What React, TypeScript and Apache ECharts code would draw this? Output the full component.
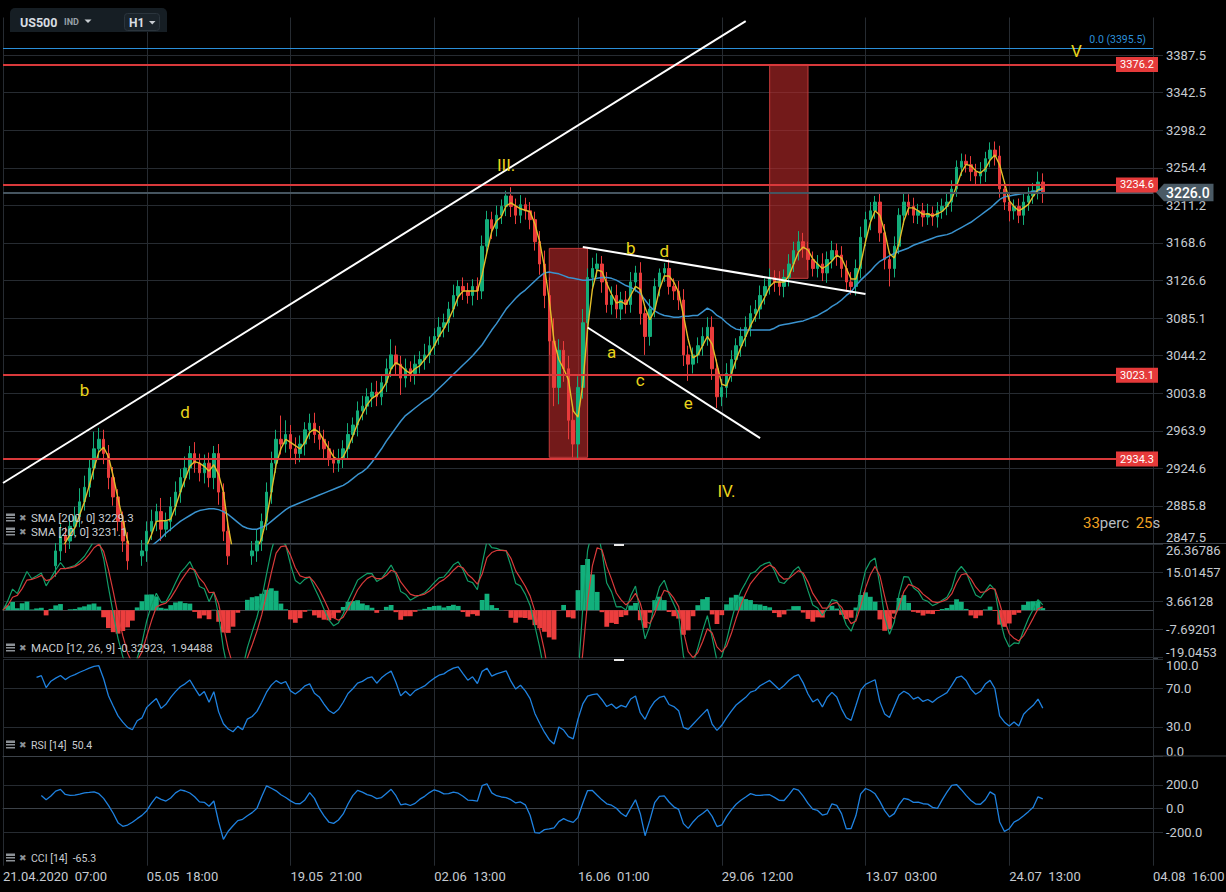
import React, { useEffect, useRef } from "react";
import * as echarts from "echarts";

// ---------- x axis ----------
const xTickDates = ["21.04.2020", "05.05", "19.05", "02.06", "16.06", "29.06", "13.07", "24.07", "04.08"];
const xTickTimes = ["07:00", "18:00", "21:00", "13:00", "01:00", "12:00", "03:00", "13:00", "16:00"];
const BARS_PER_TICK = 30;
const CATEGORY_COUNT = (xTickDates.length - 1) * BARS_PER_TICK + 1;

// ---------- price data (resampled bars) ----------
const firstOpen = 2730;
const closes = [
  2740, 2755, 2770, 2760, 2785, 2800, 2790, 2805, 2815, 2800,
  2825, 2840, 2855, 2850, 2865, 2875, 2890, 2905, 2925, 2945,
  2955, 2940, 2915, 2895, 2870, 2850, 2830, 2820, 2835, 2840,
  2860, 2870, 2880, 2862, 2870, 2885, 2900, 2915, 2925, 2940,
  2930, 2920, 2930, 2915, 2940, 2900, 2860, 2835, 2820, 2830,
  2815, 2835, 2840, 2850, 2870, 2900, 2930, 2955, 2950, 2960,
  2945, 2940, 2950, 2965, 2972, 2960, 2955, 2945, 2935, 2930,
  2935, 2945, 2960, 2970, 2985, 2990, 3000, 3005, 3000, 3015,
  3030, 3045, 3035, 3020, 3030, 3025, 3035, 3040, 3045, 3055,
  3065, 3075, 3080, 3095, 3110, 3120, 3115, 3110, 3120, 3115,
  3165, 3195, 3185, 3200, 3210, 3222, 3210, 3200, 3212, 3205,
  3195, 3170, 3145, 3110, 3060, 3010, 3050, 3030, 2975, 2950,
  3010, 3080, 3130, 3140, 3145, 3125, 3100, 3110, 3095, 3105,
  3100, 3125, 3135, 3090, 3065, 3095, 3120, 3135, 3140, 3120,
  3115, 3105, 3045, 3035, 3045, 3055, 3065, 3075, 3030, 3000,
  3010, 3025, 3040, 3055, 3065, 3075, 3090, 3095, 3110, 3120,
  3130, 3125, 3120, 3130, 3145, 3160, 3170, 3162, 3150, 3140,
  3145, 3135, 3150, 3160, 3155, 3140, 3125, 3120, 3140, 3175,
  3195, 3205, 3215, 3180, 3150, 3140, 3165, 3200, 3215, 3210,
  3200, 3205, 3198, 3202, 3198, 3205, 3210, 3215, 3230, 3255,
  3262, 3258, 3250, 3245, 3250, 3265, 3275, 3268, 3230, 3215,
  3205, 3210, 3200, 3215, 3222, 3228, 3238, 3226,
];
const wickUp = [
  12, 10, 14, 9, 11, 8, 13, 10, 9, 12,
  10, 8, 12, 9, 11, 10, 14, 12, 10, 18,
  12, 10, 9, 11, 8, 10, 9, 12, 10, 11,
  10, 12, 8, 14, 9, 10, 11, 9, 12, 8,
  12, 10, 9, 11, 8, 10, 9, 12, 10, 11,
  9, 11, 10, 12, 8, 10, 12, 10, 25, 15,
  10, 12, 9, 8, 10, 11, 9, 10, 8, 9,
  10, 9, 12, 8, 10, 11, 9, 10, 12, 9,
  11, 17, 10, 9, 11, 8, 10, 9, 12, 10,
  9, 11, 10, 8, 12, 7, 10, 9, 8, 10,
  12, 10, 9, 11, 8, 6, 10, 9, 11, 8,
  10, 9, 12, 15, 20, 25, 12, 10, 14, 16,
  12, 15, 10, 12, 12, 9, 11, 10, 12, 9,
  10, 11, 8, 12, 10, 11, 9, 5, 6, 10,
  9, 11, 12, 10, 8, 9, 10, 11, 12, 10,
  9, 11, 10, 8, 10, 12, 9, 10, 11, 9,
  10, 8, 12, 9, 11, 10, 12, 10, 8, 9,
  10, 12, 9, 11, 8, 10, 9, 11, 10, 12,
  9, 10, 7, 11, 10, 9, 11, 8, 10, 9,
  10, 8, 9, 11, 8, 10, 9, 11, 10, 8,
  9, 8, 10, 9, 11, 8, 9, 10, 12, 9,
  10, 8, 9, 11, 10, 9, 12, 10,
];
const wickDown = [
  10, 12, 9, 11, 13, 10, 9, 12, 10, 11,
  9, 11, 10, 12, 8, 10, 11, 9, 10, 12,
  10, 11, 12, 9, 10, 11, 9, 10, 12, 10,
  11, 9, 10, 12, 8, 10, 9, 11, 10, 12,
  10, 9, 11, 10, 12, 13, 10, 9, 11, 10,
  12, 10, 9, 11, 10, 9, 12, 10, 11, 9,
  10, 11, 9, 12, 10, 9, 11, 10, 8, 10,
  9, 10, 11, 9, 12, 10, 9, 11, 10, 9,
  10, 9, 11, 18, 10, 9, 12, 10, 11, 9,
  10, 9, 11, 10, 9, 12, 10, 9, 11, 10,
  9, 10, 12, 9, 10, 11, 12, 10, 9, 10,
  11, 10, 12, 14, 15, 20, 18, 14, 20, 14,
  15, 12, 10, 11, 10, 12, 9, 11, 10, 12,
  10, 9, 11, 12, 20, 10, 9, 11, 10, 9,
  10, 11, 12, 18, 10, 9, 11, 10, 12, 12,
  10, 11, 9, 10, 12, 11, 10, 9, 11, 10,
  9, 11, 10, 12, 10, 9, 11, 10, 12, 9,
  10, 9, 11, 10, 12, 10, 11, 9, 10, 11,
  10, 12, 9, 10, 11, 20, 10, 9, 11, 10,
  9, 10, 11, 9, 10, 12, 9, 10, 11, 9,
  10, 9, 11, 10, 9, 12, 10, 11, 10, 9,
  12, 10, 9, 11, 10, 9, 10, 12,
];
const sma200 = [
  null, null, null, null, null, null, null, null, null, null,
  null, null, null, null, null, null, null, null, null, null,
  null, null, null, null, null, null, null, null, null, null,
  2840, 2845,
  2849, 2853, 2858, 2862, 2866, 2870, 2873, 2876, 2879, 2881,
  2882, 2883, 2883, 2882, 2880, 2877, 2873, 2869, 2865, 2863,
  2862, 2862, 2864, 2866, 2870, 2874, 2878, 2882, 2885, 2887,
  2889, 2891, 2893, 2895, 2897, 2899, 2901, 2903, 2905, 2907,
  2910, 2914, 2918, 2921, 2925, 2931, 2938, 2945, 2953, 2960,
  2967, 2974, 2980, 2984, 2988, 2992, 2996, 2999, 3004, 3009,
  3014, 3019, 3024, 3029, 3034, 3039, 3044, 3050, 3056, 3064,
  3072, 3079, 3087, 3095, 3101, 3107, 3112, 3116, 3121, 3126,
  3131, 3135, 3136, 3135, 3134, 3132, 3130, 3129, 3128, 3127,
  3127, 3128, 3129, 3130, 3130, 3129, 3127, 3124, 3121, 3119,
  3116, 3112, 3105, 3098, 3093, 3090, 3088, 3087, 3086, 3086,
  3087, 3087, 3088, 3088, 3092, 3096, 3093, 3088, 3085, 3080,
  3076, 3073, 3072, 3072, 3072, 3072, 3072, 3072, 3072, 3074,
  3077, 3078, 3079, 3080, 3081, 3082, 3084, 3086, 3088, 3091,
  3094, 3098, 3101, 3105, 3110, 3114, 3121, 3127, 3132, 3137,
  3143, 3148, 3151, 3154, 3157, 3159, 3161, 3163, 3166, 3168,
  3170, 3172, 3174, 3176, 3177, 3178, 3180, 3183, 3186, 3189,
  3192, 3196, 3200, 3204, 3208, 3213, 3218, 3221, 3222, 3223,
  3224, 3225, 3226, 3227, 3228, 3229.3,
];

// ---------- axis tick labels ----------
const priceTickLabels = [
  "2847.5", "2885.8", "2924.6", "2963.9", "3003.8", "3044.2", "3085.1",
  "3126.6", "3168.6", "3211.2", "3254.4", "3298.2", "3342.5", "3387.5",
];
const macdTickLabels = ["-19.0453", "-7.69201", "3.66128", "15.01457", "26.36786"];
const rsiTicks = [0, 30, 70, 100];
const cciTicks = [-200, 0, 200];

// ---------- drawings ----------
const levels = [3376.2, 3234.6, 3023.1, 2934.3];
const fibLevel = 3395.5;
const lastPrice = 3226.0;
const trendLines = [
  { from: [0, 2909.4], to: [155, 3428.7] },
  { from: [109, 2846.0], to: [231, 3274.2] },
  { from: [121, 3164.1], to: [180, 3111.6] },
  { from: [122, 3074.8], to: [158, 2956.2] },
];
const zones = [
  { from: [114, 3162.5], to: [122, 2936.1] },
  { from: [160, 3376.2], to: [168, 3129.0] },
];
const waveLabels = [
  { t: "b", i: 17, p: 3007.2 },
  { t: "d", i: 38, p: 2983.8 },
  { t: "III.", i: 105, p: 3257.5 },
  { t: "b", i: 131, p: 3162.9 },
  { t: "d", i: 138, p: 3159.5 },
  { t: "a", i: 127, p: 3048.1 },
  { t: "c", i: 133, p: 3017.9 },
  { t: "e", i: 143, p: 2993.3 },
  { t: "IV.", i: 151, p: 2901.1 },
  { t: "V", i: 224, p: 3392.3 },
];

// ---------- log price scale ----------
const PRICE_BASE = 2847.5;
const LOG_STEP = Math.log(3387.5 / 2847.5) / 13;
const toU = (p: number) => Math.log(p / PRICE_BASE) / LOG_STEP;

// ---------- colours ----------
const GRID = "#262b31";
const SEP = "#3c4249";
const LABEL = "#c6cbd1";
const UP = "#13ad7a";
const DOWN = "#e93b3b";
const WAVE = "#ead41c";
const FONT = "Roboto, 'Noto Sans', sans-serif";

// ---------- indicators ----------
function ema(src: number[], period: number) {
  const k = 2 / (period + 1);
  const out: number[] = [];
  src.forEach((v, i) => out.push(i === 0 ? v : v * k + out[i - 1] * (1 - k)));
  return out;
}
function sma(src: number[], n: number) {
  return src.map((_, i) => {
    if (i < n - 1) return null;
    let s = 0;
    for (let j = i - n + 1; j <= i; j++) s += src[j];
    return s / n;
  });
}
function rsi(src: number[], n: number) {
  const out: (number | null)[] = [null];
  let ag = 0;
  let al = 0;
  for (let i = 1; i < src.length; i++) {
    const d = src[i] - src[i - 1];
    const g = Math.max(d, 0);
    const l = Math.max(-d, 0);
    if (i <= n) {
      ag += g / n;
      al += l / n;
      out.push(i === n ? (al === 0 ? 100 : 100 - 100 / (1 + ag / al)) : null);
    } else {
      ag = (ag * (n - 1) + g) / n;
      al = (al * (n - 1) + l) / n;
      out.push(al === 0 ? 100 : 100 - 100 / (1 + ag / al));
    }
  }
  return out;
}
function cci(h: number[], l: number[], c: number[], n: number) {
  const tp = c.map((v, i) => (h[i] + l[i] + v) / 3);
  return tp.map((v, i) => {
    if (i < n - 1) return null;
    const w = tp.slice(i - n + 1, i + 1);
    const m = w.reduce((a, b) => a + b, 0) / n;
    const md = w.reduce((a, b) => a + Math.abs(b - m), 0) / n;
    return md === 0 ? 0 : (v - m) / (0.015 * md);
  });
}

function buildOption() {
  const categories = Array.from({ length: CATEGORY_COUNT }, (_, i) => String(i));
  const opens = closes.map((c, i) => (i === 0 ? firstOpen : closes[i - 1]));
  const highs = closes.map((c, i) => Math.max(opens[i], c) + wickUp[i]);
  const lows = closes.map((c, i) => Math.min(opens[i], c) - wickDown[i]);
  const candles = closes.map((c, i) => [toU(opens[i]), toU(c), toU(lows[i]), toU(highs[i])]);
  const sma20 = sma(closes, 3).map((v) => (v == null ? null : toU(v)));
  const sma200U = sma200.map((v) => (v == null ? null : toU(v as number)));

  const fast = ema(closes, 3);
  const slow = ema(closes, 7);
  const macd = fast.map((v, i) => v - slow[i]);
  const signal = ema(macd, 3);
  const hist = macd.map((v, i) => v - signal[i]);
  const rsiVals = rsi(closes, 7);
  const cciVals = cci(highs, lows, closes, 9);

  const macdTicks = macdTickLabels.map(Number);
  const priceTicks = priceTickLabels.map((_, i) => i);

  const lbl = { color: LABEL, fontSize: 13, fontFamily: FONT };

  const grids = [
    { left: 3, right: 73, top: 17.5, height: 526 },
    { left: 3, right: 73, top: 544.4, height: 113.2 },
    { left: 3, right: 73, top: 659, height: 97 },
    { left: 3, right: 73, top: 756, height: 109.7 },
  ].map((g) => ({ ...g, outerBoundsMode: "none", containLabel: false }));

  const xAxis = [0, 1, 2, 3].map((k) => ({
    type: "category",
    gridIndex: k,
    data: categories,
    boundaryGap: false,
    axisLine: { show: true, lineStyle: { color: SEP, width: 1 } },
    axisTick: { show: k === 3, interval: BARS_PER_TICK - 1, length: 4, lineStyle: { color: GRID } },
    axisLabel: {
      show: k === 3,
      interval: BARS_PER_TICK - 1,
      align: "left",
      margin: 4,
      ...lbl,
      formatter: (_v: string, idx: number) => {
        const t = Math.round(idx / BARS_PER_TICK);
        return xTickDates[t] + "\u00a0\u00a0" + xTickTimes[t];
      },
    },
    splitLine: { show: true, interval: BARS_PER_TICK - 1, lineStyle: { color: GRID, width: 1 } },
  }));

  const yBase = (gridIndex: number, min: number, max: number, ticks: number[]) => ({
    type: "value",
    gridIndex,
    position: "right",
    min,
    max,
    axisLine: { show: false },
    axisTick: { show: true, inside: false, length: 10, lineStyle: { color: GRID }, customValues: ticks },
    splitLine: { show: true, lineStyle: { color: GRID, width: 1 } },
  });

  const yAxis = [
    {
      ...yBase(0, 0, 14, priceTicks),
      axisLabel: {
        ...lbl,
        margin: 13,
        customValues: priceTicks,
        formatter: (v: number) => {
          const k = Math.round(v);
          return k === 0 ? `{bot|${priceTickLabels[0]}}` : priceTickLabels[k] ?? "";
        },
        rich: { bot: { ...lbl, padding: [0, 0, 12, 0] } },
      },
    },
    {
      ...yBase(1, macdTicks[0], macdTicks[macdTicks.length - 1], macdTicks),
      axisLabel: {
        ...lbl,
        margin: 13,
        customValues: macdTicks,
        formatter: (v: number) => {
          let k = 0;
          macdTicks.forEach((t, i) => {
            if (Math.abs(t - v) < Math.abs(macdTicks[k] - v)) k = i;
          });
          const s = macdTickLabels[k];
          if (k === macdTicks.length - 1) return `{top|${s}}`;
          if (k === 0) return `{bot|${s}}`;
          return s;
        },
        rich: { top: { ...lbl, padding: [12, 0, 0, 0] }, bot: { ...lbl, padding: [0, 0, 11, 0] } },
      },
    },
    {
      ...yBase(2, 0, 100, rsiTicks),
      axisLabel: {
        ...lbl,
        margin: 13,
        customValues: rsiTicks,
        formatter: (v: number) => {
          const s = v.toFixed(1);
          if (v >= 100) return `{top|${s}}`;
          if (v <= 0) return `{bot|${s}}`;
          return s;
        },
        rich: { top: { ...lbl, padding: [13, 0, 0, 0] }, bot: { ...lbl, padding: [0, 0, 10, 0] } },
      },
    },
    {
      ...yBase(3, -482, 445, cciTicks),
      axisLabel: { ...lbl, margin: 13, customValues: cciTicks, formatter: (v: number) => v.toFixed(1) },
    },
  ];

  const markLineData: any[] = [];
  levels.forEach((v) =>
    markLineData.push({ yAxis: toU(v), lineStyle: { color: "#d9393b", width: 2, type: "solid" } })
  );
  markLineData.push({ yAxis: toU(fibLevel), lineStyle: { color: "#2b8fd9", width: 1, type: "solid" } });
  markLineData.push({ yAxis: toU(lastPrice), lineStyle: { color: "#465560", width: 2, type: "solid" } });
  trendLines.forEach((t) =>
    markLineData.push([
      { coord: [t.from[0], toU(t.from[1])], lineStyle: { color: "#ffffff", width: 2, type: "solid" } },
      { coord: [t.to[0], toU(t.to[1])] },
    ])
  );

  return {
    animation: false,
    backgroundColor: "#000000",
    textStyle: { fontFamily: FONT },
    grid: grids,
    xAxis,
    yAxis,
    series: [
      {
        type: "candlestick",
        xAxisIndex: 0,
        yAxisIndex: 0,
        z: 2,
        barWidth: "62%",
        clip: true,
        silent: true,
        itemStyle: { color: UP, color0: DOWN, borderColor: UP, borderColor0: DOWN, borderWidth: 1 },
        data: candles,
      },
      {
        type: "line",
        name: "SMA200",
        xAxisIndex: 0,
        yAxisIndex: 0,
        z: 3,
        symbol: "none",
        silent: true,
        clip: true,
        lineStyle: { color: "#3a93cf", width: 1.5 },
        data: sma200U,
      },
      {
        type: "line",
        name: "SMA20",
        xAxisIndex: 0,
        yAxisIndex: 0,
        z: 3,
        symbol: "none",
        silent: true,
        clip: true,
        lineStyle: { color: "#e2bd2a", width: 1.4 },
        data: sma20,
      },
      {
        type: "line",
        name: "drawings",
        xAxisIndex: 0,
        yAxisIndex: 0,
        z: 4,
        silent: true,
        symbol: "none",
        data: [],
        markArea: {
          silent: true,
          itemStyle: { color: "rgba(185,42,42,0.62)", borderColor: "#c43a3a", borderWidth: 1 },
          data: zones.map((z) => [
            { coord: [z.from[0], toU(z.from[1])] },
            { coord: [z.to[0], toU(z.to[1])] },
          ]),
        },
        markLine: {
          silent: true,
          symbol: ["none", "none"],
          label: { show: false },
          animation: false,
          data: markLineData,
        },
      },
      {
        type: "bar",
        name: "MACD hist",
        xAxisIndex: 1,
        yAxisIndex: 1,
        barCategoryGap: "0%",
        silent: true,
        data: hist.map((v) => ({ value: v, itemStyle: { color: v >= 0 ? "#12b07c" : "#ec3e3e" } })),
      },
      {
        type: "line",
        name: "MACD",
        xAxisIndex: 1,
        yAxisIndex: 1,
        symbol: "none",
        silent: true,
        lineStyle: { color: "#129d68", width: 1.2 },
        data: macd,
      },
      {
        type: "line",
        name: "Signal",
        xAxisIndex: 1,
        yAxisIndex: 1,
        symbol: "none",
        silent: true,
        lineStyle: { color: "#d83a3a", width: 1.2 },
        data: signal,
      },
      {
        type: "line",
        name: "RSI",
        xAxisIndex: 2,
        yAxisIndex: 2,
        symbol: "none",
        silent: true,
        lineStyle: { color: "#1f82e0", width: 1.3 },
        data: rsiVals,
      },
      {
        type: "line",
        name: "CCI",
        xAxisIndex: 3,
        yAxisIndex: 3,
        symbol: "none",
        silent: true,
        clip: true,
        lineStyle: { color: "#1f82e0", width: 1.3 },
        data: cciVals,
      },
    ],
  };
}

function txt(text: string, x: number, y: number, fill: string, fontSize: number, extra: any = {}, z = 120) {
  return {
    type: "text",
    z,
    style: {
      text, x, y, fill, fontSize, fontFamily: FONT,
      textAlign: "left", textVerticalAlign: "middle", align: "left", verticalAlign: "middle",
      ...extra,
    },
  };
}

function legendRow(y: number, text: string, size: number) {
  return [
    { type: "rect", z: 100, shape: { x: 6, y: y - 4.5, width: 9, height: 2.5 }, style: { fill: "#8c9196" } },
    { type: "rect", z: 100, shape: { x: 6, y: y - 1, width: 9, height: 1.5 }, style: { fill: "#8c9196" } },
    { type: "rect", z: 100, shape: { x: 6, y: y + 2, width: 9, height: 1.5 }, style: { fill: "#8c9196" } },
    txt("\u2716", 19, y, "#8c9196", 9, { fontFamily: "DejaVu Sans" }),
    txt(text, 31, y, "#c8ccd0", size),
  ];
}

function buildGraphic(
  yPix: (p: number) => number,
  ptPix: (i: number, p: number) => number[]
) {
  const els: any[] = [];
  // header
  els.push({ type: "rect", z: 100, shape: { x: 10, y: 8, width: 157, height: 24, r: [5, 5, 0, 0] }, style: { fill: "#161e24" } });
  els.push(txt("US500", 20, 22, "#d8dde2", 12.5, { fontWeight: "bold" }));
  els.push(txt("IND", 64, 22, "#97a0a8", 9, { fontWeight: "bold" }));
  els.push({ type: "polygon", z: 120, shape: { points: [[84.5, 19.5], [91.5, 19.5], [88, 23]] }, style: { fill: "#c8cdd2" } });
  els.push({ type: "rect", z: 110, shape: { x: 124.5, y: 13.5, width: 35, height: 17, r: 3 }, style: { fill: "#1a232a", stroke: "#2b353d", lineWidth: 1 } });
  els.push(txt("H1", 129, 22.5, "#d8dde2", 12, { fontWeight: "bold" }));
  els.push({ type: "polygon", z: 120, shape: { points: [[149, 21], [155.5, 21], [152.25, 24.5]] }, style: { fill: "#c8cdd2" } });

  // legends
  els.push(...legendRow(518, "SMA [200, 0] 3229.3", 11.5));
  els.push(...legendRow(532, "SMA [20, 0] 3231.1", 11.5));
  els.push(...legendRow(648, "MACD [12, 26, 9] -0.32923,\u00a0\u00a01.94488", 11.5));
  els.push(...legendRow(745, "RSI [14]\u00a0\u00a050.4", 10.5));
  els.push(...legendRow(858, "CCI [14]\u00a0\u00a0-65.3", 10.5));

  // wave labels, placed through the axes
  waveLabels.forEach((w) => {
    const [x, y] = ptPix(w.i, w.p);
    els.push(txt(w.t, x, y, WAVE, 17, { textAlign: "center", align: "center" }));
  });

  // timer text
  els.push({
    type: "text",
    z: 120,
    style: {
      text: "{o|33}{g|perc}\u00a0\u00a0{o|25}{g|s}",
      x: 1083, y: 523,
      textAlign: "left", textVerticalAlign: "middle", align: "left", verticalAlign: "middle",
      rich: {
        o: { fill: "#f0a020", fontSize: 15, fontFamily: FONT },
        g: { fill: "#b7bcc1", fontSize: 15, fontFamily: FONT },
      },
    },
  });

  // separators extending to page edge
  els.push({ type: "line", z: 50, shape: { x1: 1153, y1: 543.5, x2: 1226, y2: 543.5 }, style: { stroke: SEP, lineWidth: 1 } });
  els.push({ type: "line", z: 50, shape: { x1: 1153, y1: 756, x2: 1226, y2: 756 }, style: { stroke: SEP, lineWidth: 1 } });
  els.push({ type: "line", z: 50, shape: { x1: 1153, y1: 658.5, x2: 1158, y2: 658.5 }, style: { stroke: SEP, lineWidth: 1 } });
  // small white markers
  els.push({ type: "line", z: 60, shape: { x1: 614, y1: 545, x2: 624, y2: 545 }, style: { stroke: "#e8e8e8", lineWidth: 2 } });
  els.push({ type: "line", z: 60, shape: { x1: 614, y1: 660, x2: 624, y2: 660 }, style: { stroke: "#e8e8e8", lineWidth: 2 } });

  // level tags
  levels.forEach((v) => {
    const y = yPix(v);
    els.push({ type: "rect", z: 110, shape: { x: 1116, y: y - 7.5, width: 42, height: 15 }, style: { fill: "#e53a3a" } });
    els.push(txt(v.toFixed(1), 1137, y, "#ffffff", 11, { textAlign: "center", align: "center" }));
  });
  // fib label
  const yf = yPix(fibLevel);
  els.push(txt("0.0 (" + fibLevel.toFixed(1) + ")", 1146, yf - 8.5, "#2b8fd9", 10.5, { textAlign: "right", align: "right" }));
  // current price tag
  const yl = yPix(lastPrice);
  els.push({
    type: "polygon",
    z: 110,
    shape: { points: [[1156, yl], [1164, yl - 8.7], [1213.5, yl - 8.7], [1213.5, yl + 8.7], [1164, yl + 8.7]] },
    style: { fill: "#4a5a65" },
  });
  els.push(txt(lastPrice.toFixed(1), 1166, yl + 0.5, "#ffffff", 14, { fontWeight: 500 }));
  return els;
}

export default function App() {
  const ref = useRef<HTMLDivElement>(null);
  useEffect(() => {
    document.body.style.margin = "0";
    document.body.style.background = "#000";
    const chart = echarts.init(ref.current as HTMLDivElement, null, { renderer: "svg" });
    chart.setOption(buildOption() as any);
    const yPix = (p: number) => chart.convertToPixel({ yAxisIndex: 0 } as any, toU(p)) as unknown as number;
    const ptPix = (i: number, p: number) =>
      chart.convertToPixel({ gridIndex: 0 } as any, [i, toU(p)]) as unknown as number[];
    chart.setOption({ graphic: buildGraphic(yPix, ptPix) } as any);
    return () => chart.dispose();
  }, []);
  return <div ref={ref} style={{ width: 1226, height: 892, background: "#000" }} />;
}
